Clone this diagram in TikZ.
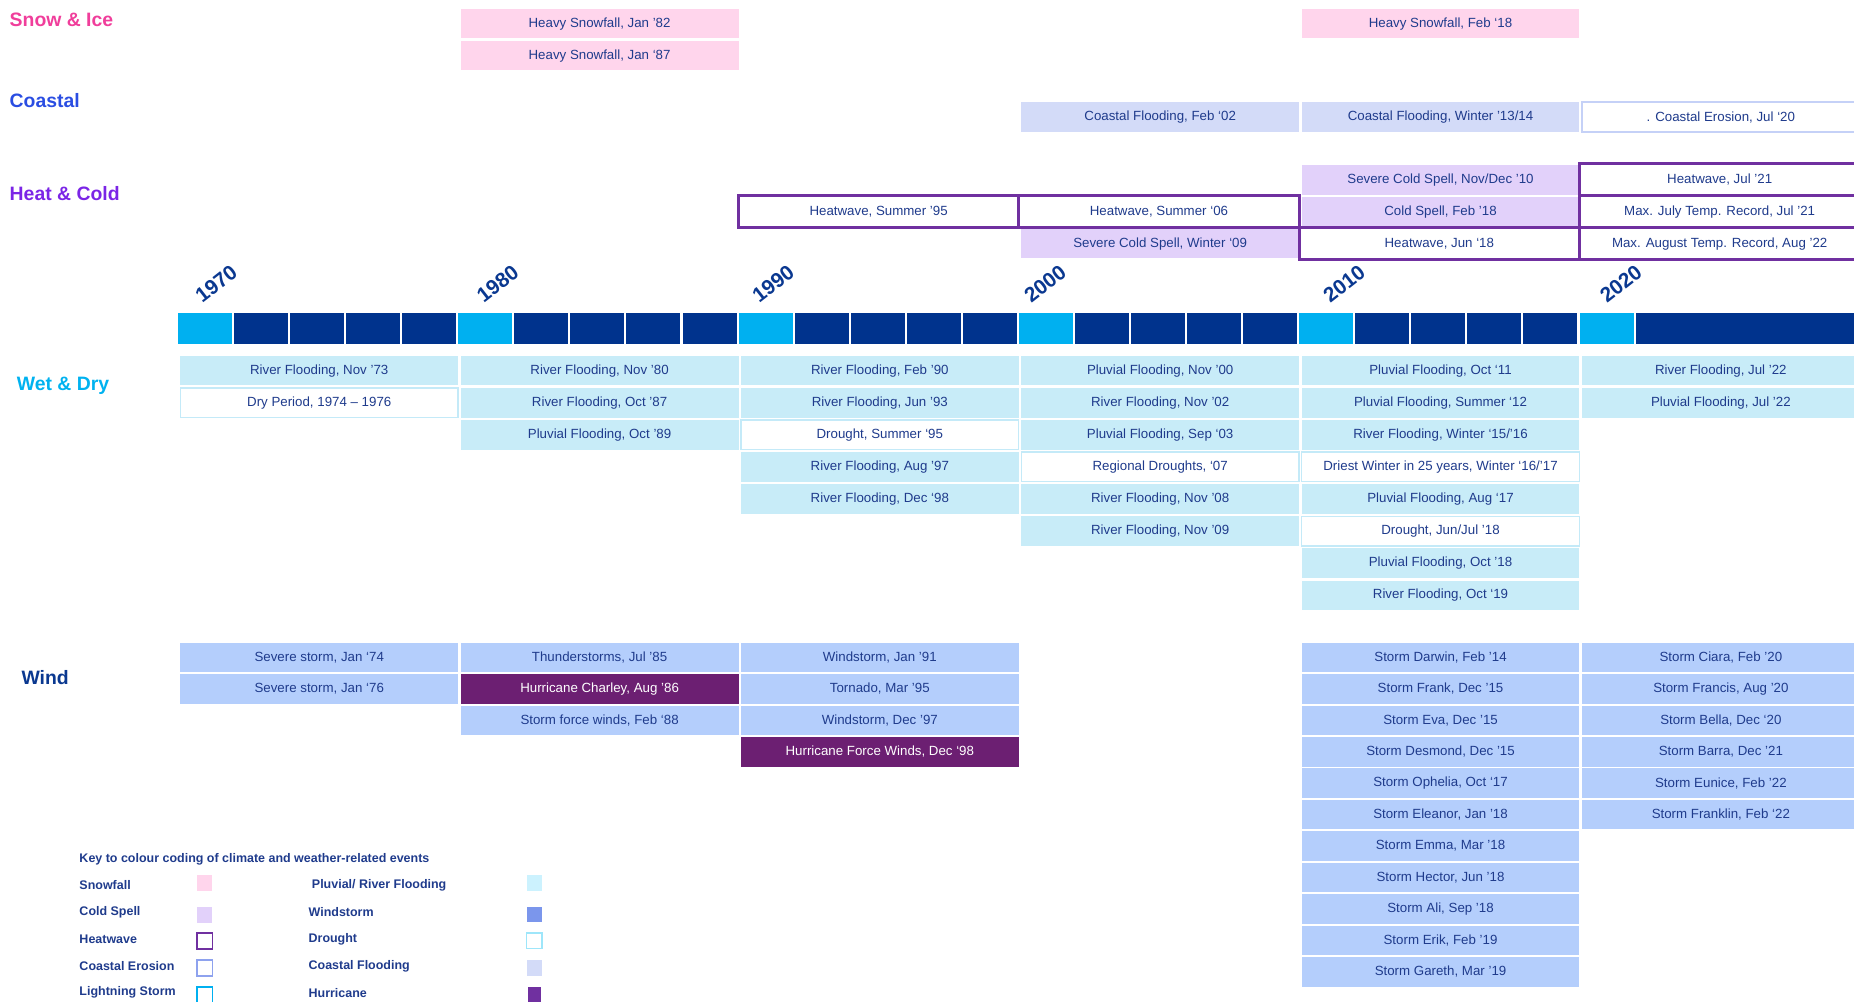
\documentclass[tikz,border=0pt]{standalone}
\usepackage{xcolor}
\usepackage{fontspec}
\setmainfont{Liberation Sans}

\definecolor{navytext}{HTML}{1F3B8C}
\definecolor{barnavy}{HTML}{00338D}
\definecolor{barcyan}{HTML}{00B0F0}
\definecolor{snowfill}{HTML}{FFD5EC}
\definecolor{coastfill}{HTML}{D3DBF8}
\definecolor{erosionline}{HTML}{C5D1F7}
\definecolor{coldfill}{HTML}{E2D1FA}
\definecolor{heatline}{HTML}{7030A0}
\definecolor{floodfill}{HTML}{C8ECF8}
\definecolor{droughtline}{HTML}{C4EAF8}
\definecolor{windfill}{HTML}{B4CEFC}
\definecolor{hurrfill}{HTML}{6C1F72}
\definecolor{snowhead}{HTML}{F03E9B}
\definecolor{coasthead}{HTML}{2A4DE2}
\definecolor{heathead}{HTML}{7B25E6}
\definecolor{wethead}{HTML}{00B2F0}
\definecolor{windhead}{HTML}{0A3890}
\definecolor{keywind}{HTML}{7B96EC}
\definecolor{keyflood}{HTML}{CCF2FE}
\definecolor{keydrought}{HTML}{9EE6FA}
\definecolor{keyerosion}{HTML}{8EA2EE}
\definecolor{keyhurr}{HTML}{7030A0}

\begin{document}
\begin{tikzpicture}[x=0.03cm, y=-0.03cm,
  evt/.style={minimum width=7.05cm, minimum height=0.75cm, inner sep=0pt,
    text=navytext, font=\fontsize{9.6}{11.5}\selectfont},
  snow/.style={evt, fill=snowfill},
  coast/.style={evt, fill=coastfill},
  erosion/.style={evt, fill=white, draw=erosionline, line width=1.4pt},
  cold/.style={evt, fill=coldfill},
  heat/.style={evt, fill=white, draw=heatline, line width=2pt,
    minimum width=7.11cm, minimum height=0.81cm},
  flood/.style={evt, fill=floodfill},
  drought/.style={evt, fill=white, draw=droughtline, line width=1pt},
  wind/.style={evt, fill=windfill},
  hurr/.style={evt, fill=hurrfill, text=white},
  head/.style={anchor=west, inner sep=0pt, font=\fontsize{14}{16}\selectfont\bfseries},
  year/.style={anchor=base west, inner sep=0pt, rotate=38, text=windhead,
    font=\fontsize{15}{17}\selectfont\bfseries},
  key/.style={anchor=west, inner sep=0pt, text=navytext,
    font=\fontsize{9}{11}\selectfont\bfseries},
  swatch/.style={minimum size=0.4cm, inner sep=0pt, line width=1.3pt},
  swsnow/.style={swatch, fill=snowfill},
  swcold/.style={swatch, fill=coldfill},
  swheat/.style={swatch, fill=white, draw=heatline},
  swero/.style={swatch, fill=white, draw=keyerosion},
  swlight/.style={swatch, fill=white, draw=barcyan},
  swflood/.style={swatch, fill=keyflood},
  swwind/.style={swatch, fill=keywind},
  swdrought/.style={swatch, fill=white, draw=keydrought},
  swcoast/.style={swatch, fill=coastfill},
  swhurr/.style={swatch, fill=keyhurr, minimum width=0.34cm}]

  % Frame
  \useasboundingbox (0,0) rectangle (1568,846.6);
  \clip (0,0) rectangle (1568,846.6);

  % Category headings
  \node[head, text=snowhead] (hsnow) at (8,17) {Snow \& Ice};
  \node[head, text=coasthead] (hcoast) at (8,85) {Coastal};
  \node[head, text=heathead] (hheat) at (8,164) {Heat \& Cold};
  \node[head, text=wethead] (hwet) at (14,326) {Wet \& Dry};
  \node[head, text=windhead] (hwind) at (18,573) {Wind};

  % Timeline bar
  \foreach \d in {0,...,4}
    \foreach \c/\clr in {0/barcyan,1/barnavy,2/barnavy,3/barnavy,4/barnavy}
      \fill[\clr] ({150.5+237.07*\d+47.41*\c},265) rectangle ++(45.7,26);
  \fill[barcyan] (1335.9,265) rectangle ++(45.7,26);
  \fill[barnavy] (1383.3,265) rectangle (1568,291);

  % Decades
  \foreach \yr/\px in {1970/171,1980/409,1990/642,2000/872,2010/1125,2020/1359}
    \node[year] (yr\yr) at (\px,257) {\yr};

  % Snow & Ice
  \node[snow] (snow1) at (507.1,20) {Heavy Snowfall, Jan '82};
  \node[snow] (snow2) at (507.1,47) {Heavy Snowfall, Jan `87};
  \node[snow] (snow3) at (1218.3,20) {Heavy Snowfall, Feb `18};

  % Coastal
  \node[coast] (coast1) at (981.2,99) {Coastal Flooding, Feb `02};
  \node[coast] (coast2) at (1218.3,99) {Coastal Flooding, Winter '13/14};
  \node[erosion] (coast3) at (1455.4,99) {. Coastal Erosion, Jul `20};

  % Heat & Cold
  \node[cold] (cold1) at (1218.3,152) {Severe Cold Spell, Nov/Dec '10};
  \node[cold] (cold2) at (1218.3,179) {Cold Spell, Feb '18};
  \node[cold] (cold3) at (981.2,206) {Severe Cold Spell, Winter `09};
  \node[heat] (heat1) at (743.1,179) {Heatwave, Summer '95};
  \node[heat] (heat2) at (980.2,179) {Heatwave, Summer `06};
  \node[heat] (heat3) at (1217.3,206) {Heatwave, Jun `18};
  \node[heat] (heat4) at (1454.4,152) {Heatwave, Jul '21};
  \node[heat] (heat5) at (1454.4,179) {Max. July Temp. Record, Jul '21};
  \node[heat] (heat6) at (1454.4,206) {Max. August Temp. Record, Aug '22};

  % Wet & Dry
  \foreach \s/\txt [count=\k] in {flood/{River Flooding, Nov '73},
      drought/{Dry Period, 1974 -- 1976}}
    \node[\s] (wd70-\k) at (270,{313.5+27.14*(\k-1)}) {\txt};
  \foreach \s/\txt [count=\k] in {flood/{River Flooding, Nov '80},
      flood/{River Flooding, Oct '87}, flood/{Pluvial Flooding, Oct '89}}
    \node[\s] (wd80-\k) at (507.1,{313.5+27.14*(\k-1)}) {\txt};
  \foreach \s/\txt [count=\k] in {flood/{River Flooding, Feb '90},
      flood/{River Flooding, Jun '93}, drought/{Drought, Summer `95},
      flood/{River Flooding, Aug '97}, flood/{River Flooding, Dec `98}}
    \node[\s] (wd90-\k) at (744.1,{313.5+27.14*(\k-1)}) {\txt};
  \foreach \s/\txt [count=\k] in {flood/{Pluvial Flooding, Nov '00},
      flood/{River Flooding, Nov '02}, flood/{Pluvial Flooding, Sep `03},
      drought/{Regional Droughts, `07}, flood/{River Flooding, Nov '08},
      flood/{River Flooding, Nov '09}}
    \node[\s] (wd00-\k) at (981.2,{313.5+27.14*(\k-1)}) {\txt};
  \foreach \s/\txt [count=\k] in {flood/{Pluvial Flooding, Oct `11},
      flood/{Pluvial Flooding, Summer `12}, flood/{River Flooding, Winter `15/'16},
      drought/{Driest Winter in 25 years, Winter `16/'17},
      flood/{Pluvial Flooding, Aug `17}, drought/{Drought, Jun/Jul '18},
      flood/{Pluvial Flooding, Oct '18}, flood/{River Flooding, Oct `19}}
    \node[\s] (wd10-\k) at (1218.3,{313.5+27.14*(\k-1)}) {\txt};
  \foreach \s/\txt [count=\k] in {flood/{River Flooding, Jul '22},
      flood/{Pluvial Flooding, Jul '22}}
    \node[\s] (wd20-\k) at (1455.4,{313.5+27.14*(\k-1)}) {\txt};

  % Wind
  \foreach \s/\txt [count=\k] in {wind/{Severe storm, Jan `74},
      wind/{Severe storm, Jan `76}}
    \node[\s] (wi70-\k) at (270,{556+26.6*(\k-1)}) {\txt};
  \foreach \s/\txt [count=\k] in {wind/{Thunderstorms, Jul '85},
      hurr/{Hurricane Charley, Aug '86}, wind/{Storm force winds, Feb `88}}
    \node[\s] (wi80-\k) at (507.1,{556+26.6*(\k-1)}) {\txt};
  \foreach \s/\txt [count=\k] in {wind/{Windstorm, Jan '91},
      wind/{Tornado, Mar '95}, wind/{Windstorm, Dec '97},
      hurr/{Hurricane Force Winds, Dec `98}}
    \node[\s] (wi90-\k) at (744.1,{556+26.6*(\k-1)}) {\txt};
  \foreach \s/\txt [count=\k] in {wind/{Storm Darwin, Feb '14},
      wind/{Storm Frank, Dec '15}, wind/{Storm Eva, Dec '15},
      wind/{Storm Desmond, Dec '15}, wind/{Storm Ophelia, Oct `17},
      wind/{Storm Eleanor, Jan '18}, wind/{Storm Emma, Mar '18},
      wind/{Storm Hector, Jun '18}, wind/{Storm Ali, Sep '18},
      wind/{Storm Erik, Feb '19}, wind/{Storm Gareth, Mar '19}}
    \node[\s] (wi10-\k) at (1218.3,{556+26.6*(\k-1)}) {\txt};
  \foreach \s/\txt [count=\k] in {wind/{Storm Ciara, Feb '20},
      wind/{Storm Francis, Aug '20}, wind/{Storm Bella, Dec `20},
      wind/{Storm Barra, Dec '21}, wind/{Storm Eunice, Feb '22},
      wind/{Storm Franklin, Feb `22}}
    \node[\s] (wi20-\k) at (1455.4,{556+26.6*(\k-1)}) {\txt};

  % Key
  \node[key] (keyhead) at (67,726.5) {Key to colour coding of climate and weather-related events};
  \foreach \lbl/\sw/\yl/\ys [count=\k] in {Snowfall/swsnow/748.5/747,
      {Cold Spell}/swcold/771.6/774, Heatwave/swheat/794/796,
      {Coastal Erosion}/swero/817/818.6, {Lightning Storm}/swlight/839.5/841.4}
  {
    \node[key] (keyl\k) at (67,\yl) {\lbl};
    \node[\sw] (swl\k) at (173,\ys) {};
  }
  \foreach \lbl/\xl/\sw/\yl/\ys [count=\k] in {{Pluvial/ River Flooding}/263.6/swflood/748.5/746.6,
      Windstorm/260.8/swwind/771.6/773.5, Drought/260.8/swdrought/794/795.5,
      {Coastal Flooding}/260.8/swcoast/817/818.6, Hurricane/260.8/swhurr/839.5/841.7}
  {
    \node[key] (keyr\k) at (\xl,\yl) {\lbl};
    \node[\sw] (swr\k) at (452,\ys) {};
  }
\end{tikzpicture}
\end{document}
